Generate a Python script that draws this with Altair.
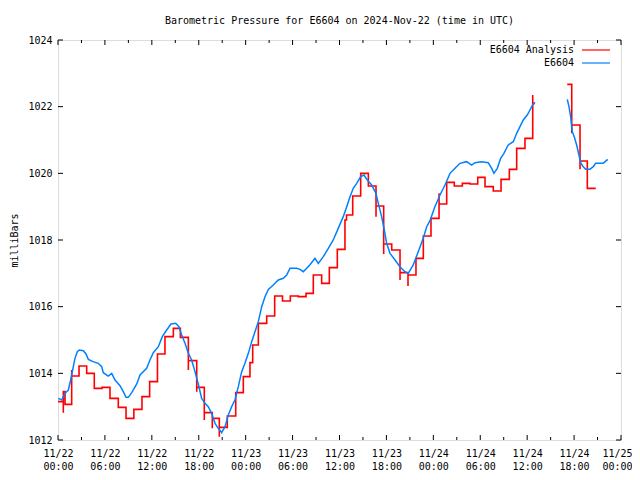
import altair as alt
import pandas as pd

# hours since 2024-11-22 00:00 UTC
obs_hours = [0.04, 0.47, 0.68, 0.9, 1.32, 1.62, 1.96, 2.17, 2.47, 2.72, 3.24, 3.58, 3.88, 4.48,
             5.15, 5.59, 5.79, 6.43, 6.87, 7.29, 7.93, 8.35, 8.7, 8.99, 9.43, 10.07, 10.49, 11.34,
             11.76, 12.19, 12.83, 13.34, 13.9, 14.45, 15.05, 15.47, 15.82, 16.24, 16.67, 17.09,
             17.52, 17.94, 18.37, 18.8, 19.22, 19.65, 20.08, 20.5, 20.93, 21.36, 21.78, 22.21,
             22.63, 23.06, 23.49, 23.91, 24.34, 24.77, 25.19, 25.62, 26.05, 26.47, 26.9, 27.53,
             28.17, 28.81, 29.24, 29.67, 30.52, 30.95, 31.37, 32.2, 32.86, 33.29, 33.93, 34.57,
             35.2, 35.84, 36.48, 36.92, 37.34, 37.76, 38.2, 38.71, 39.13, 39.55, 40.11, 40.66,
             40.96, 41.39, 41.73, 42.03, 42.46, 43.1, 43.73, 44.37, 44.8, 45.43, 46.07, 46.71,
             47.15, 47.57, 48.2, 48.85, 49.49, 50.13, 50.77, 51.4, 52.26, 52.9, 53.32, 54.18,
             55.02, 55.46, 55.75, 56.18, 56.61, 57.03, 57.58, 58.22, 58.66, 59.08, 59.5, 60.01,
             60.36, 60.7, 61.0,
             65.13, 65.35, 65.56, 65.77, 66.02, 66.33, 66.62, 66.88, 67.17, 67.48, 68.03, 68.45,
             68.76, 69.73, 70.3]
obs_mb = [1013.25, 1013.2, 1013.3, 1013.4, 1013.5, 1013.8, 1014.2, 1014.45, 1014.65, 1014.7,
          1014.68, 1014.58, 1014.42, 1014.35, 1014.3, 1014.2, 1014.02, 1013.92, 1014.0, 1013.8,
          1013.63, 1013.45, 1013.28, 1013.28, 1013.42, 1013.68, 1013.95, 1014.15, 1014.4,
          1014.62, 1014.8, 1015.1, 1015.3, 1015.48, 1015.5, 1015.4, 1015.15, 1014.9, 1014.6,
          1014.4, 1014.05, 1013.68, 1013.25, 1013.1, 1013.0, 1012.8, 1012.5, 1012.35, 1012.22,
          1012.4, 1012.75, 1013.0, 1013.2, 1013.6, 1014.05, 1014.3, 1014.6, 1014.95, 1015.25,
          1015.55, 1016.0, 1016.3, 1016.52, 1016.65, 1016.8, 1016.85, 1016.95, 1017.15, 1017.15,
          1017.12, 1017.05, 1017.25, 1017.45, 1017.3, 1017.5, 1017.75, 1018.0, 1018.35, 1018.7,
          1019.0, 1019.3, 1019.55, 1019.7, 1019.9, 1019.95, 1019.8, 1019.65, 1019.4, 1019.1,
          1018.7, 1018.3, 1017.9, 1017.6, 1017.4, 1017.2, 1017.05, 1017.0, 1017.25, 1017.65,
          1018.05, 1018.4, 1018.58, 1019.0, 1019.35, 1019.65, 1020.0, 1020.15, 1020.3, 1020.35,
          1020.25, 1020.32, 1020.35, 1020.32, 1020.15, 1020.0, 1020.15, 1020.45, 1020.6, 1020.85,
          1020.95, 1021.2, 1021.4, 1021.6, 1021.75, 1021.9, 1022.05, 1022.13,
          1022.22, 1022.0, 1021.7, 1021.25, 1021.1, 1020.85, 1020.55, 1020.3, 1020.2, 1020.12,
          1020.12, 1020.2, 1020.3, 1020.3, 1020.42]

ana_hours = [0.0, 0.68, 0.68, 0.9, 1.75, 1.75, 2.69, 3.67, 4.64, 5.63, 6.65, 7.71, 8.7, 9.7,
             10.74, 11.72, 12.72, 13.68, 14.75, 15.65, 16.67, 16.67, 17.74, 17.74, 18.71, 18.71,
             19.73, 19.73, 20.63, 20.63, 21.65, 22.73, 23.7, 24.55, 24.9, 25.62, 26.69, 27.71,
             28.71, 29.71, 30.73, 31.72, 32.65, 33.72, 34.7, 35.72, 36.7, 36.9, 37.69, 38.71,
             39.69, 40.67, 40.67, 41.65, 41.65, 42.68, 43.74, 43.74, 44.76, 44.76, 45.78, 46.72,
             47.7, 48.73, 48.73, 49.71, 50.68, 51.71, 52.69, 53.68, 54.61, 55.67, 56.66, 57.72,
             58.66, 59.72, 60.71, 60.71, 61.0,
             65.13, 65.7, 65.7, 66.76, 66.76, 67.69, 68.77]
ana_mb = [1013.15, 1012.82, 1013.45, 1013.07, 1014.1, 1013.92, 1014.22, 1014.0, 1013.55, 1013.58,
          1013.25, 1012.98, 1012.65, 1012.92, 1013.3, 1013.75, 1014.58, 1015.1, 1015.35, 1015.08,
          1014.1, 1014.38, 1013.45, 1013.58, 1012.6, 1012.82, 1012.35, 1012.65, 1012.1, 1012.38,
          1012.72, 1013.42, 1013.9, 1014.32, 1014.85, 1015.5, 1015.72, 1016.32, 1016.17, 1016.32,
          1016.3, 1016.4, 1016.95, 1016.7, 1017.17, 1017.72, 1018.6, 1018.75, 1019.32, 1020.0,
          1019.62, 1018.7, 1019.02, 1017.58, 1017.88, 1017.7, 1016.8, 1017.02, 1016.62, 1016.95,
          1017.45, 1018.12, 1018.65, 1019.4, 1019.08, 1019.73, 1019.62, 1019.7, 1019.68, 1019.88,
          1019.6, 1019.47, 1019.82, 1020.12, 1020.75, 1021.05, 1022.35, 1022.1, 1022.1,
          1022.67, 1021.2, 1021.45, 1020.12, 1020.37, 1019.55, 1019.55]

series_names = ["E6604 Analysis", "E6604"]
series_colors = ["#ff0000", "#0080ff"]
x_ticks_major = list(range(0, 73, 6))
x_ticks_minor = list(range(3, 73, 6))
y_ticks = list(range(1012, 1025, 2))
title_text = "Barometric Pressure for E6604 on 2024-Nov-22 (time in UTC)"
y_title = "milliBars"

FONT = "DejaVu Sans Mono"
FS = 10
W, H = 563, 400


def seg_ids(hours, gap=2.0):
    out, s, prev = [], 0, None
    for h in hours:
        if prev is not None and h - prev > gap:
            s += 1
        out.append(s)
        prev = h
    return out


obs = pd.DataFrame({"h": obs_hours, "mb": obs_mb, "seg": seg_ids(obs_hours),
                    "i": range(len(obs_hours))})
ana = pd.DataFrame({"h": ana_hours, "mb": ana_mb, "seg": seg_ids(ana_hours),
                    "i": range(len(ana_hours))})

label_expr = ("['11/' + (22 + floor(datum.value / 24)), "
              "(datum.value % 24 < 10 ? '0' : '') + (datum.value % 24) + ':00']")

X = alt.X("h:Q", scale=alt.Scale(domain=[0, 72], nice=False, zero=False),
          axis=alt.Axis(values=x_ticks_major, labelExpr=label_expr, title=None,
                        ticks=False, domain=False, grid=False, labelPadding=8,
                        labelLineHeight=13, labelFont=FONT, labelFontSize=FS,
                        labelColor="black", labelBaseline="top", labelFlush=False,
                        labelOffset={"condition": {"test": "datum.value == 72", "value": -4},
                                     "value": 0}))
Y = alt.Y("mb:Q", scale=alt.Scale(domain=[1012, 1024], nice=False, zero=False),
          axis=alt.Axis(values=y_ticks, format="d", title=y_title, ticks=False, domain=False,
                        grid=False, labelPadding=6, labelFont=FONT, labelFontSize=FS,
                        labelColor="black", titleFont=FONT, titleFontSize=FS,
                        titleFontWeight="normal", titleColor="black", titleX=-44,
                        titleY=200, titleAngle=-90, titleAlign="center",
                        titleBaseline="middle", labelFlush=False))

red = alt.Chart(ana).mark_line(color=series_colors[0], strokeWidth=1.6,
                               interpolate="step-after").encode(
    x=X, y=Y, detail="seg:N", order="i:Q")
blue = alt.Chart(obs).mark_line(color=series_colors[1], strokeWidth=1.5).encode(
    x=X, y=Y, detail="seg:N", order="i:Q")

xmaj = pd.DataFrame({"h": x_ticks_major})
xmin = pd.DataFrame({"h": x_ticks_minor})
yt = pd.DataFrame({"mb": y_ticks})

ticks = [
    alt.Chart(xmaj).mark_rule(color="black").encode(x=X, y=alt.value(H), y2=alt.value(H - 5)),
    alt.Chart(xmaj).mark_rule(color="black").encode(x=X, y=alt.value(0), y2=alt.value(5)),
    alt.Chart(xmin).mark_rule(color="black").encode(x=X, y=alt.value(H), y2=alt.value(H - 3)),
    alt.Chart(xmin).mark_rule(color="black").encode(x=X, y=alt.value(0), y2=alt.value(3)),
    alt.Chart(yt).mark_rule(color="black").encode(y=Y, x=alt.value(0), x2=alt.value(5)),
    alt.Chart(yt).mark_rule(color="black").encode(y=Y, x=alt.value(W), x2=alt.value(W - 5)),
]

one = pd.DataFrame({"k": [0]})
legend = []
for k, (name, col) in enumerate(zip(series_names, series_colors)):
    yy = 10 + 13 * k
    legend.append(alt.Chart(one).mark_text(text=name, align="right", baseline="middle",
                                           font=FONT, fontSize=FS, color="black").encode(
        x=alt.value(516), y=alt.value(yy)))
    legend.append(alt.Chart(one).mark_rule(color=col, strokeWidth=1.2).encode(
        x=alt.value(524), x2=alt.value(552), y=alt.value(yy)))

chart = alt.layer(red, blue, *ticks, *legend).properties(
    width=W, height=H,
    title=alt.TitleParams(title_text, font=FONT, fontSize=FS, fontWeight="normal",
                          color="black", anchor="middle", offset=9),
    padding={"left": 50, "top": 32, "right": 11, "bottom": 32},
    autosize=alt.AutoSizeParams(type="none"),
).configure_view(stroke="black", strokeWidth=1).configure(background="white")

chart.save("out.html", embed_options={"renderer": "svg", "actions": False})
